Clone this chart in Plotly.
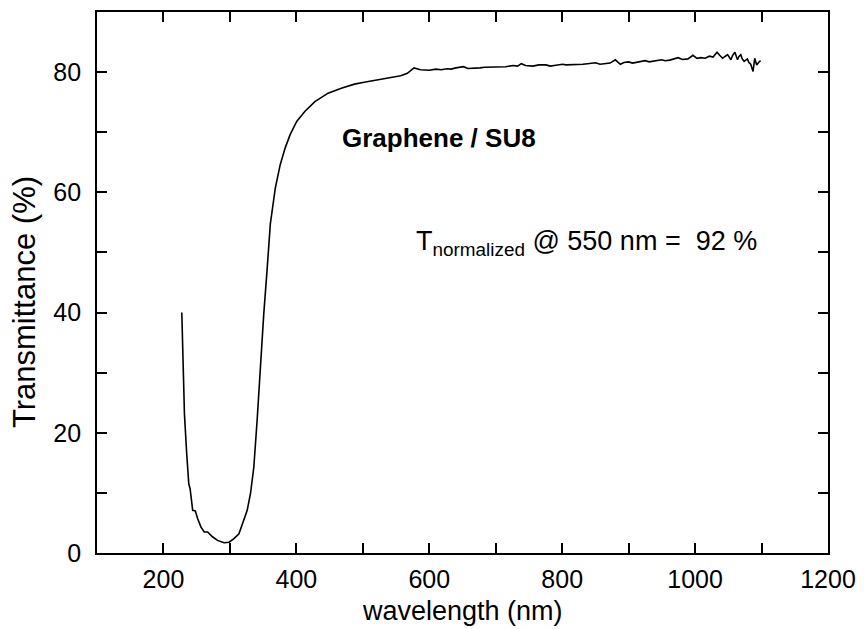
import plotly.graph_objects as go

# Wavelength (nm) and transmittance (%)
wavelength = [227.6, 229.1, 231.6, 235.0, 238.1, 240.1, 244.0, 248.0, 251.5, 256.5,
              261.4, 266.4, 273.8, 281.3, 291.2, 298.7, 306.1, 313.6, 321.0, 326.0,
              331.0, 336.0, 340.9, 345.9, 350.9, 355.8, 360.8, 368.3, 375.7, 383.2,
              390.6, 400.5, 413.0, 427.9, 447.7, 467.6, 487.5, 502.0, 517.3, 532.0,
              547.2, 557.0, 567.0, 577.0, 586.8, 592.0, 600.0, 610.0, 618.0, 626.6,
              633.0, 640.0, 651.5, 658.0, 664.0, 676.2, 683.0, 690.0, 701.1, 708.0,
              715.0, 726.0, 733.0, 738.4, 745.0, 755.8, 765.0, 775.6, 782.0, 788.0,
              800.5, 806.0, 812.0, 825.3, 831.0, 838.0, 850.2, 857.0, 865.0, 872.0,
              880.0, 887.5, 893.0, 899.8, 906.0, 912.0, 924.7, 931.0, 937.0, 949.6,
              955.0, 962.0, 974.4, 981.0, 989.3, 996.7, 1003.0, 1009.2, 1015.0, 1021.6,
              1027.0, 1033.0, 1037.0, 1041.4, 1045.0, 1048.9, 1053.9, 1056.5, 1059.9, 1063.8,
              1066.0, 1068.8, 1071.0, 1073.8, 1078.7, 1081.0, 1083.7, 1087.2, 1089.7, 1092.7,
              1095.5, 1098.6]
transmittance = [40.0, 31.4, 23.1, 16.5, 11.5, 10.7, 7.1, 7.0, 5.7, 4.3,
                 3.5, 3.5, 2.7, 2.1, 1.7, 1.8, 2.4, 3.2, 5.4, 7.1,
                 9.9, 14.3, 22.0, 31.4, 39.7, 46.9, 54.7, 60.7, 64.6, 67.4,
                 69.6, 71.8, 73.5, 75.1, 76.5, 77.3, 78.0, 78.3, 78.6, 78.9,
                 79.1, 79.4, 79.8, 80.7, 80.4, 80.4, 80.3, 80.5, 80.4, 80.55,
                 80.5, 80.7, 80.9, 80.6, 80.6, 80.7, 80.8, 80.8, 80.9, 80.8,
                 80.9, 81.1, 81.0, 81.4, 81.1, 81.0, 81.2, 81.2, 81.0, 81.1,
                 81.3, 81.2, 81.2, 81.2, 81.3, 81.4, 81.55, 81.3, 81.45, 81.5,
                 82.05, 81.3, 81.6, 81.7, 81.5, 81.6, 81.9, 81.7, 81.8, 82.05,
                 81.9, 82.0, 82.4, 82.1, 82.2, 82.8, 82.3, 82.4, 82.3, 82.65,
                 82.5, 83.3, 82.8, 82.3, 82.6, 82.9, 82.05, 82.8, 83.3, 82.05,
                 82.6, 82.9, 82.2, 81.8, 82.2, 81.6, 81.3, 80.1, 82.3, 81.2,
                 81.6, 81.9]

x_range = [100, 1200]
y_range = [0, 90]
x_ticks = [200, 400, 600, 800, 1000, 1200]
y_ticks = [0, 20, 40, 60, 80]

FONT = "Liberation Sans, Arial, sans-serif"

fig = go.Figure()
fig.add_trace(go.Scatter(x=wavelength, y=transmittance, mode="lines",
                         line=dict(color="black", width=1.6), showlegend=False,
                         hoverinfo="skip"))

axis_common = dict(showline=True, linecolor="black", linewidth=1.8, mirror="ticks",
                   ticks="inside", ticklen=10, tickwidth=1.5, tickcolor="black",
                   showgrid=False, zeroline=False,
                   tickfont=dict(family=FONT, size=25, color="black"))

fig.update_xaxes(range=x_range, tickvals=x_ticks, ticklabelstandoff=3,
                 minor=dict(dtick=100, tick0=0, ticks="inside", ticklen=10,
                            tickwidth=1.5, tickcolor="black", showgrid=False),
                 **axis_common)
fig.update_yaxes(range=y_range, tickvals=y_ticks, ticklabelstandoff=9,
                 minor=dict(dtick=10, tick0=0, ticks="inside", ticklen=10,
                            tickwidth=1.5, tickcolor="black", showgrid=False),
                 **axis_common)

fig.add_annotation(text="wavelength (nm)", xref="paper", yref="paper",
                   x=0.5, y=-0.108, yanchor="middle", xanchor="center",
                   showarrow=False, font=dict(family=FONT, size=27, color="black"))
fig.add_annotation(text="Transmittance (%)", xref="paper", yref="paper",
                   x=-0.0999, y=0.4638, textangle=-90, xanchor="center",
                   yanchor="middle", showarrow=False,
                   font=dict(family=FONT, size=31, color="black"))
fig.add_annotation(text="<b>Graphene / SU8</b>", x=465, y=69.0, xanchor="left",
                   yanchor="middle", showarrow=False,
                   font=dict(family=FONT, size=26, color="black"))
fig.add_annotation(text="T<sub>normalized</sub> @ 550 nm =&nbsp; 92 %", x=577, y=51.5,
                   xanchor="left", yanchor="middle", showarrow=False,
                   font=dict(family=FONT, size=27, color="black"))

fig.update_layout(width=866, height=629, margin=dict(l=97, r=31, t=10, b=76),
                  plot_bgcolor="white", paper_bgcolor="white")

fig.write_html("out.html")
